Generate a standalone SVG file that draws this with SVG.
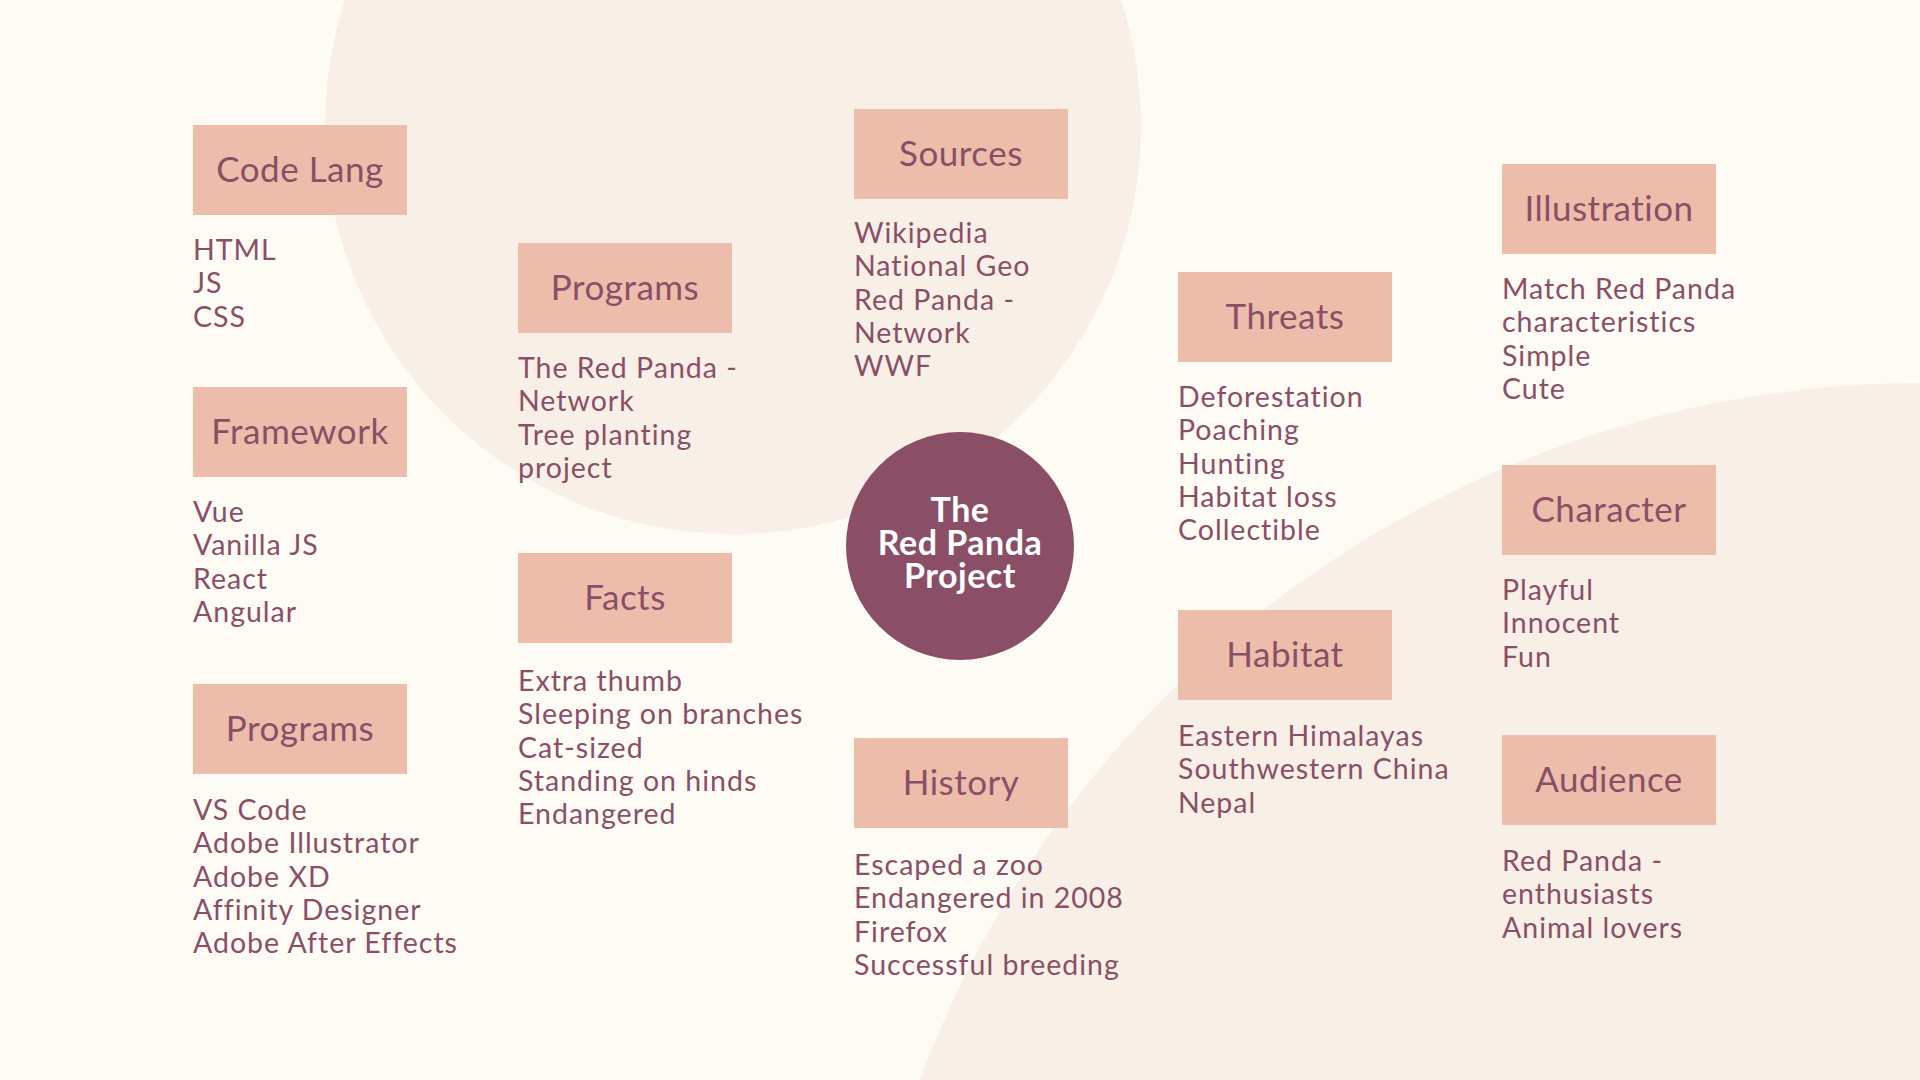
<svg xmlns="http://www.w3.org/2000/svg" width="1920" height="1080" viewBox="0 0 1920 1080">
  <style>
    .bg { fill: #FEFBF5; }
    .blob { fill: #F8EFE7; }
    .box { fill: #ECBDAA; }
    .label { font-family: "Lato", "Liberation Sans", sans-serif; font-size: 35px; letter-spacing: 0.5px; fill: #8A4F66; text-anchor: middle; }
    .items { font-family: "Lato", "Liberation Sans", sans-serif; font-size: 28.5px; letter-spacing: 1px; fill: #8A4F66; }
    .hub { fill: #8A4F66; }
    .hub-text { font-family: "Lato", "Liberation Sans", sans-serif; font-size: 34px; letter-spacing: 0.5px; font-weight: bold; fill: #FFFFFF; text-anchor: middle; }
  </style>

  <!-- background and decorative circles -->
  <rect class="bg" x="0" y="0" width="1920" height="1080"/>
  <circle class="blob" cx="733" cy="126" r="408"/>
  <circle class="blob" cx="1922" cy="1452" r="1069"/>

  <g id="connectors"/>

  <!-- central hub -->
  <g id="hub">
    <circle class="hub" cx="960" cy="546" r="114"/>
    <text class="hub-text" x="960" y="522">The</text>
    <text class="hub-text" x="960" y="555">Red Panda</text>
    <text class="hub-text" x="960" y="588">Project</text>
  </g>

  <!-- column 1 -->
  <g id="code-lang">
    <rect class="box" x="193" y="125" width="214" height="90"/>
    <text class="label" x="300" y="182">Code Lang</text>
    <text class="items" x="193" y="260">
      <tspan x="193">HTML</tspan><tspan x="193" dy="33.3">JS</tspan><tspan x="193" dy="33.3">CSS</tspan>
    </text>
  </g>
  <g id="framework">
    <rect class="box" x="193" y="387" width="214" height="90"/>
    <text class="label" x="300" y="444">Framework</text>
    <text class="items" x="193" y="522">
      <tspan x="193">Vue</tspan><tspan x="193" dy="33.3">Vanilla JS</tspan><tspan x="193" dy="33.3">React</tspan><tspan x="193" dy="33.3">Angular</tspan>
    </text>
  </g>
  <g id="programs-tools">
    <rect class="box" x="193" y="684" width="214" height="90"/>
    <text class="label" x="300" y="741">Programs</text>
    <text class="items" x="193" y="820">
      <tspan x="193">VS Code</tspan><tspan x="193" dy="33.3">Adobe Illustrator</tspan><tspan x="193" dy="33.3">Adobe XD</tspan><tspan x="193" dy="33.3">Affinity Designer</tspan><tspan x="193" dy="33.3">Adobe After Effects</tspan>
    </text>
  </g>

  <!-- column 2 -->
  <g id="programs-conservation">
    <rect class="box" x="518" y="243" width="214" height="90"/>
    <text class="label" x="625" y="300">Programs</text>
    <text class="items" x="518" y="378">
      <tspan x="518">The Red Panda -</tspan><tspan x="518" dy="33.3">Network</tspan><tspan x="518" dy="33.3">Tree planting</tspan><tspan x="518" dy="33.3">project</tspan>
    </text>
  </g>
  <g id="facts">
    <rect class="box" x="518" y="553" width="214" height="90"/>
    <text class="label" x="625" y="610">Facts</text>
    <text class="items" x="518" y="691">
      <tspan x="518">Extra thumb</tspan><tspan x="518" dy="33.3">Sleeping on branches</tspan><tspan x="518" dy="33.3">Cat-sized</tspan><tspan x="518" dy="33.3">Standing on hinds</tspan><tspan x="518" dy="33.3">Endangered</tspan>
    </text>
  </g>

  <!-- column 3 -->
  <g id="sources">
    <rect class="box" x="854" y="109" width="214" height="90"/>
    <text class="label" x="961" y="166">Sources</text>
    <text class="items" x="854" y="243">
      <tspan x="854">Wikipedia</tspan><tspan x="854" dy="33.3">National Geo</tspan><tspan x="854" dy="33.3">Red Panda -</tspan><tspan x="854" dy="33.3">Network</tspan><tspan x="854" dy="33.3">WWF</tspan>
    </text>
  </g>
  <g id="history">
    <rect class="box" x="854" y="738" width="214" height="90"/>
    <text class="label" x="961" y="795">History</text>
    <text class="items" x="854" y="875">
      <tspan x="854">Escaped a zoo</tspan><tspan x="854" dy="33.3">Endangered in 2008</tspan><tspan x="854" dy="33.3">Firefox</tspan><tspan x="854" dy="33.3">Successful breeding</tspan>
    </text>
  </g>

  <!-- column 4 -->
  <g id="threats">
    <rect class="box" x="1178" y="272" width="214" height="90"/>
    <text class="label" x="1285" y="329">Threats</text>
    <text class="items" x="1178" y="407">
      <tspan x="1178">Deforestation</tspan><tspan x="1178" dy="33.3">Poaching</tspan><tspan x="1178" dy="33.3">Hunting</tspan><tspan x="1178" dy="33.3">Habitat loss</tspan><tspan x="1178" dy="33.3">Collectible</tspan>
    </text>
  </g>
  <g id="habitat">
    <rect class="box" x="1178" y="610" width="214" height="90"/>
    <text class="label" x="1285" y="667">Habitat</text>
    <text class="items" x="1178" y="746">
      <tspan x="1178">Eastern Himalayas</tspan><tspan x="1178" dy="33.3">Southwestern China</tspan><tspan x="1178" dy="33.3">Nepal</tspan>
    </text>
  </g>

  <!-- column 5 -->
  <g id="illustration">
    <rect class="box" x="1502" y="164" width="214" height="90"/>
    <text class="label" x="1609" y="221">Illustration</text>
    <text class="items" x="1502" y="299">
      <tspan x="1502">Match Red Panda</tspan><tspan x="1502" dy="33.3">characteristics</tspan><tspan x="1502" dy="33.3">Simple</tspan><tspan x="1502" dy="33.3">Cute</tspan>
    </text>
  </g>
  <g id="character">
    <rect class="box" x="1502" y="465" width="214" height="90"/>
    <text class="label" x="1609" y="522">Character</text>
    <text class="items" x="1502" y="600">
      <tspan x="1502">Playful</tspan><tspan x="1502" dy="33.3">Innocent</tspan><tspan x="1502" dy="33.3">Fun</tspan>
    </text>
  </g>
  <g id="audience">
    <rect class="box" x="1502" y="735" width="214" height="90"/>
    <text class="label" x="1609" y="792">Audience</text>
    <text class="items" x="1502" y="871">
      <tspan x="1502">Red Panda -</tspan><tspan x="1502" dy="33.3">enthusiasts</tspan><tspan x="1502" dy="33.3">Animal lovers</tspan>
    </text>
  </g>
</svg>
